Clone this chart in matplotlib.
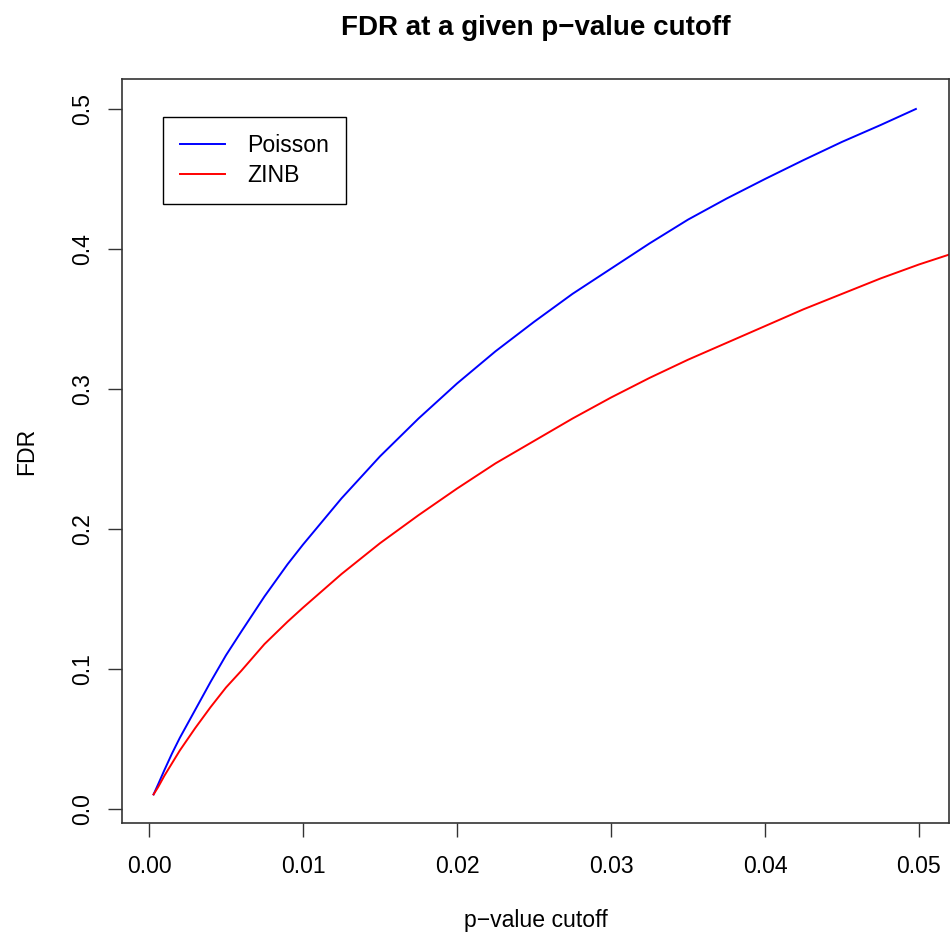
import matplotlib
matplotlib.use("Agg")
from matplotlib import pyplot as plt

plt.rcParams['font.family'] = ['Liberation Sans', 'DejaVu Sans']

# p-value cutoffs and FDR
pval = [0.0003, 0.0006, 0.001, 0.0015, 0.002, 0.003, 0.004, 0.005, 0.006,
        0.0075, 0.009, 0.01, 0.0125, 0.015, 0.0175, 0.02, 0.0225, 0.025,
        0.0275, 0.03, 0.0325, 0.035, 0.0375, 0.04, 0.0425, 0.045, 0.0475, 0.0498]
fdr_poisson = [0.0107, 0.018, 0.028, 0.040, 0.051, 0.071, 0.091, 0.110, 0.127,
               0.152, 0.175, 0.189, 0.222, 0.252, 0.279, 0.304, 0.327, 0.348,
               0.368, 0.386, 0.404, 0.421, 0.436, 0.450, 0.4635, 0.4765, 0.4885, 0.500]

pval_zinb = [0.0003, 0.0006, 0.001, 0.0015, 0.002, 0.003, 0.004, 0.005, 0.006,
             0.0075, 0.009, 0.01, 0.0125, 0.015, 0.0175, 0.02, 0.0225, 0.025,
             0.0275, 0.03, 0.0325, 0.035, 0.0375, 0.04, 0.0425, 0.045, 0.0475,
             0.05, 0.0525]
fdr_zinb = [0.0107, 0.016, 0.024, 0.033, 0.042, 0.058, 0.073, 0.087, 0.099,
            0.118, 0.134, 0.144, 0.168, 0.190, 0.210, 0.229, 0.247, 0.263,
            0.279, 0.294, 0.308, 0.321, 0.333, 0.345, 0.357, 0.368, 0.379,
            0.389, 0.398]

xticks = [0.00, 0.01, 0.02, 0.03, 0.04, 0.05]
yticks = [0.0, 0.1, 0.2, 0.3, 0.4, 0.5]

W, H = 952, 938
fig = plt.figure(figsize=(W / 100, H / 100), dpi=100)
ax = fig.add_axes([122 / W, 1 - 823 / H, (949 - 122) / W, (823 - 79) / H])

ax.plot(pval, fdr_poisson, color='blue', lw=1.4, label='Poisson')
ax.plot(pval_zinb, fdr_zinb, color='red', lw=1.4, label='ZINB')

ax.set_xlim(-0.00175, 0.05195)
ax.set_ylim(-0.0097, 0.5214)
ax.set_xticks(xticks)
ax.set_xticklabels(['%.2f' % v for v in xticks])
ax.set_yticks(yticks)
ax.set_yticklabels(['%.1f' % v for v in yticks], rotation=90, va='center')

fs = 16.6
ax.tick_params(axis='both', direction='out', length=10, width=1.0,
               labelsize=fs, colors='#333333', labelcolor='black')
ax.tick_params(axis='x', pad=13)
ax.tick_params(axis='y', pad=10)
for s in ax.spines.values():
    s.set_linewidth(1.2)
    s.set_color('#333333')

ax.set_title('FDR at a given p\u2212value cutoff', fontsize=20, fontweight='bold', pad=32)
ax.set_xlabel('p\u2212value cutoff', fontsize=fs, labelpad=22)
ax.set_ylabel('FDR', fontsize=fs, labelpad=24)

leg = ax.legend(loc='upper left', bbox_to_anchor=(41 / 827, 1 - 38 / 744),
                borderaxespad=0, fontsize=fs, fancybox=False, edgecolor='black',
                framealpha=1, borderpad=0.74, labelspacing=0.32,
                handlelength=1.95, handletextpad=0.95)
leg.get_frame().set_linewidth(1.0)

fig.savefig('out.png', dpi=100)
